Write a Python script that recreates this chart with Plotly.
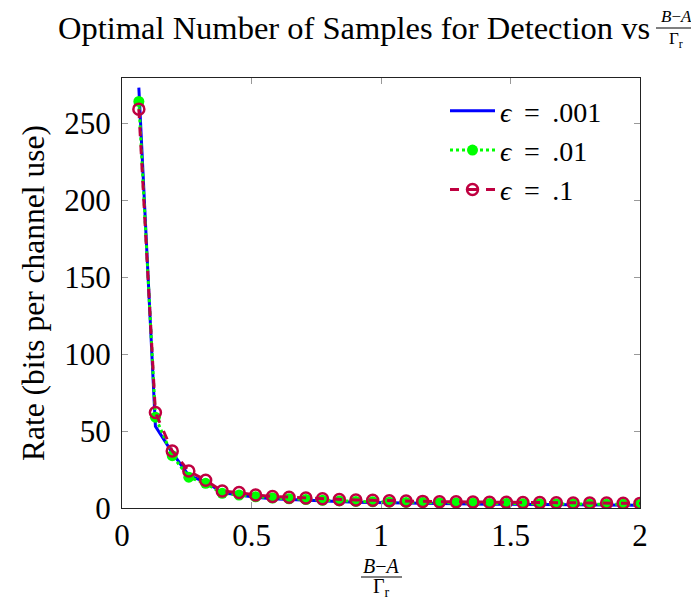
import plotly.graph_objects as go

# ---- data ----
x_vals = [0.065, 0.129, 0.194, 0.258, 0.323, 0.387, 0.452, 0.516, 0.581, 0.645,
          0.710, 0.774, 0.839, 0.903, 0.968, 1.032, 1.097, 1.161, 1.226, 1.290,
          1.355, 1.419, 1.484, 1.548, 1.613, 1.677, 1.742, 1.806, 1.871, 1.935, 2.000]
rate_eps_001 = [273, 53, 36, 21, 17, 10, 8.5, 7, 6, 5.5, 5, 4.5, 4, 3.8, 3.5, 3.3,
                3.1, 3, 2.8, 2.7, 2.6, 2.5, 2.4, 2.3, 2.2, 2.1, 2, 2, 1.9, 1.8, 1.8]
rate_eps_01 = [264, 59, 34, 20, 16, 9.5, 8.4, 7.3, 6.5, 6, 5.5, 5, 4.6, 4.3, 4, 3.8,
               3.6, 3.5, 3.3, 3.2, 3.1, 3, 2.9, 2.8, 2.7, 2.6, 2.6, 2.5, 2.5, 2.4, 2.3]
rate_eps_1 = [259, 62, 37, 24, 18, 11, 10, 8.5, 7.5, 7, 6.5, 6, 5.5, 5.2, 5, 4.7,
              4.5, 4.3, 4.1, 4, 3.9, 3.8, 3.7, 3.6, 3.5, 3.4, 3.3, 3.3, 3.2, 3.1, 3.0]
series_names = ["<i>ϵ</i>\u00a0\u2009=\u00a0\u2009.001",
                "<i>ϵ</i>\u00a0\u2009=\u00a0\u2009.01",
                "<i>ϵ</i>\u00a0\u2009=\u00a0\u2009.1"]
x_tickvals = [0, 0.5, 1, 1.5, 2]
x_ticktext = ["0", "0.5", "1", "1.5", "2"]
y_tickvals = [0, 50, 100, 150, 200, 250]

OFF = 8  # page body margin
W, H = 699 - OFF, 600 - OFF
L, R, T, B = 122 - OFF, 59, 78 - OFF, 92
PW, PH = W - L - R, H - T - B
FONT = "Liberation Serif, Times New Roman, serif"


def px(xp):
    return (xp - OFF - L) / PW


def py(yp):
    return (H - B - (yp - OFF)) / PH


fig = go.Figure()
fig.add_trace(go.Scatter(x=x_vals, y=rate_eps_001, name=series_names[0], mode="lines",
                         line=dict(color="#0000ff", width=3)))
fig.add_trace(go.Scatter(x=x_vals, y=rate_eps_01, name=series_names[1], mode="lines+markers",
                         line=dict(color="#00ff00", width=3, dash="dot"),
                         marker=dict(symbol="circle", size=11, color="#00ff00")))
fig.add_trace(go.Scatter(x=x_vals, y=rate_eps_1, name=series_names[2], mode="lines+markers",
                         line=dict(color="#bf0040", width=3, dash="dash"),
                         marker=dict(symbol="circle-open", size=11, color="#bf0040",
                                     line=dict(width=2.5, color="#bf0040"))))

axis_common = dict(showline=True, linecolor="#222", linewidth=1, mirror="ticks",
                   ticks="inside", ticklen=6, tickcolor="#999", showgrid=False,
                   zeroline=False, tickfont=dict(family=FONT, size=31, color="black"))
fig.update_xaxes(range=[0, 2], tickvals=x_tickvals, ticktext=x_ticktext, **axis_common)
fig.update_yaxes(range=[0, PH / 1.54], tickvals=y_tickvals, ticklabelstandoff=4, **axis_common)

annotations = [
    dict(text="Optimal Number of Samples for Detection vs", x=px(652), y=py(28),
         xanchor="right", yanchor="middle", font=dict(size=32.5)),
    dict(text="<i>B</i>−<i>A</i>", x=px(676), y=py(17), xanchor="center", yanchor="middle",
         font=dict(size=17)),
    dict(text="Γ<sub>r</sub>", x=px(676), y=py(40), xanchor="center", yanchor="middle",
         font=dict(size=17)),
    dict(text="<i>B</i>−<i>A</i>", x=px(381), y=py(566), xanchor="center", yanchor="middle",
         font=dict(size=20)),
    dict(text="Γ<sub>r</sub>", x=px(381), y=py(587), xanchor="center", yanchor="middle",
         font=dict(size=20)),
    dict(text="Rate (bits per channel use)", x=px(33), y=py(293), textangle=-90,
         xanchor="center", yanchor="middle", font=dict(size=31.5)),
]
for a in annotations:
    a.update(xref="paper", yref="paper", showarrow=False)
    a["font"].update(family=FONT, color="black")

shapes = [
    dict(type="line", xref="paper", yref="paper", x0=px(656), x1=px(697), y0=py(28), y1=py(28),
         line=dict(color="black", width=1)),
    dict(type="line", xref="paper", yref="paper", x0=px(361), x1=px(402), y0=py(577), y1=py(577),
         line=dict(color="black", width=1)),
]

fig.update_layout(
    width=W, height=H,
    margin=dict(l=L, r=R, t=T, b=B, autoexpand=False),
    plot_bgcolor="white", paper_bgcolor="white",
    font=dict(family=FONT, size=28, color="black"),
    annotations=annotations, shapes=shapes,
    legend=dict(x=px(445), y=py(86), xanchor="left", yanchor="top",
                bgcolor="rgba(0,0,0,0)", font=dict(family=FONT, size=28),
                itemwidth=45, tracegroupgap=0),
    showlegend=True,
)

fig.write_html("out.html")
